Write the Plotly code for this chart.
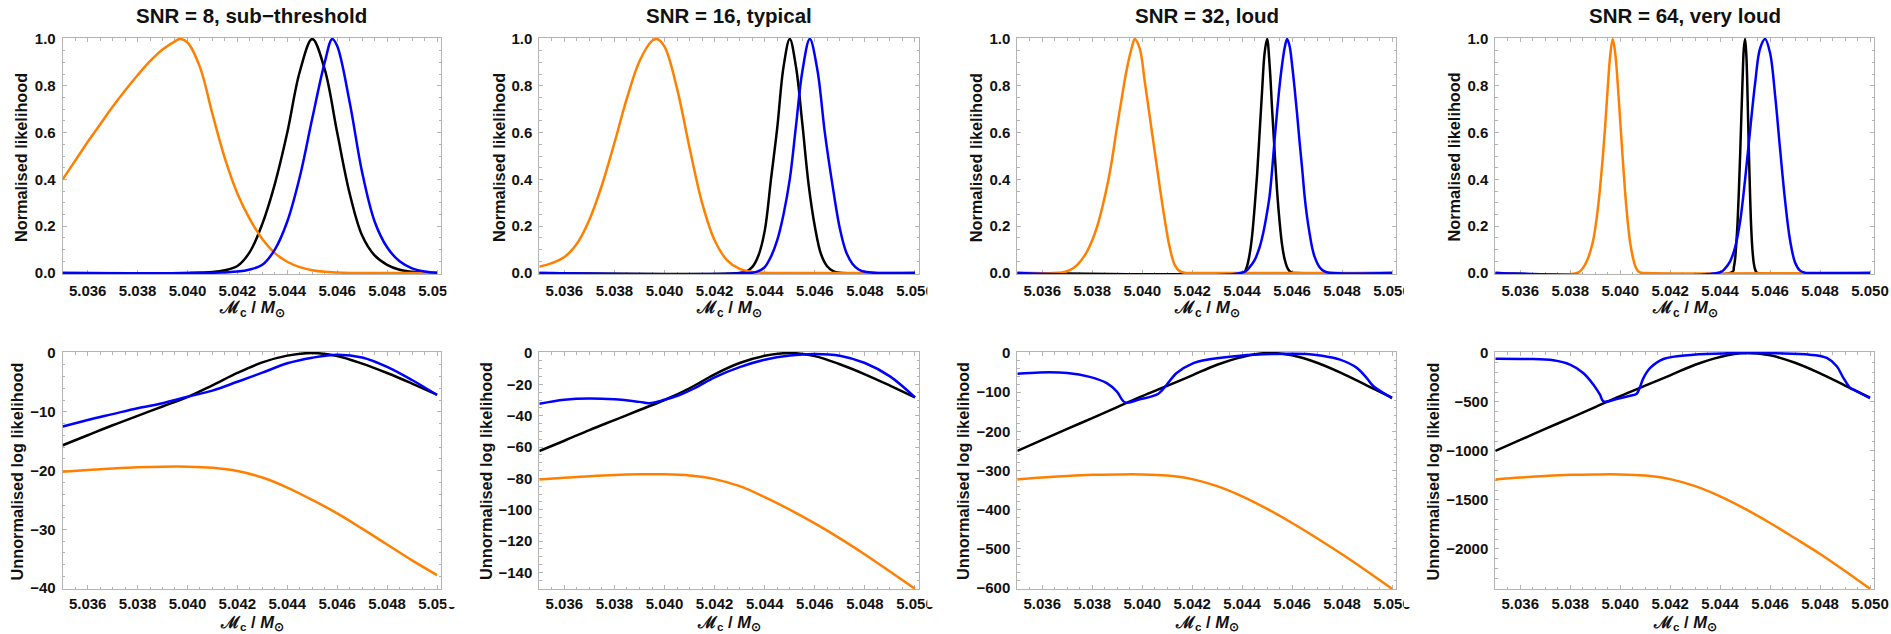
import plotly.graph_objects as go

# ---------------------------------------------------------------- data ----
PANEL_TITLES = ["SNR = 8, sub\u2212threshold", "SNR = 16, typical",
                "SNR = 32, loud", "SNR = 64, very loud"]

# chirp-mass grid (solar masses) shared by the smooth log-likelihood curves
MC_GRID = [5.035, 5.036, 5.037, 5.038, 5.039, 5.040, 5.041, 5.042,
           5.043, 5.044, 5.045, 5.046, 5.047, 5.048, 5.049, 5.050]

# ---- normalised likelihood, SNR 8
norm8_black_x = [5.035, 5.040, 5.041, 5.0415, 5.042, 5.0425, 5.043, 5.0435, 5.044, 5.0445, 5.045,
                 5.0455, 5.046, 5.0465, 5.047, 5.0475, 5.048, 5.0485, 5.049, 5.0495, 5.050]
norm8_black = [0, 0.0005, 0.004, 0.012, 0.03, 0.09, 0.21, 0.38, 0.60, 0.86, 1.0,
               0.87, 0.60, 0.34, 0.16, 0.075, 0.035, 0.014, 0.005, 0.001, 0]
norm8_orange_x = [5.035, 5.0355, 5.036, 5.0365, 5.037, 5.0375, 5.038, 5.0385, 5.039, 5.0395, 5.0397,
                  5.040, 5.0405, 5.041, 5.0415, 5.042, 5.0425, 5.043, 5.0435, 5.044, 5.0445, 5.045,
                  5.0455, 5.046, 5.0465, 5.047, 5.050]
norm8_orange = [0.40, 0.48, 0.56, 0.635, 0.71, 0.78, 0.845, 0.905, 0.955, 0.99, 1.0,
                0.985, 0.88, 0.68, 0.49, 0.34, 0.23, 0.145, 0.085, 0.048, 0.025, 0.012,
                0.005, 0.002, 0.0005, 0, 0]
norm8_blue_x = [5.035, 5.041, 5.042, 5.0425, 5.043, 5.0435, 5.044, 5.0445, 5.045, 5.0455, 5.0458,
                5.046, 5.0465, 5.047, 5.0475, 5.048, 5.0485, 5.049, 5.0495, 5.050]
norm8_blue = [0, 0.001, 0.006, 0.015, 0.035, 0.10, 0.22, 0.41, 0.66, 0.90, 1.0,
              0.97, 0.73, 0.43, 0.22, 0.11, 0.05, 0.02, 0.006, 0.001]

# ---- normalised likelihood, SNR 16
norm16_black_x = [5.035, 5.043, 5.04325, 5.0435, 5.04375, 5.044, 5.04425, 5.0445, 5.04475, 5.045,
                  5.04525, 5.0455, 5.04575, 5.046, 5.04625, 5.0465, 5.04675, 5.047, 5.050]
norm16_black = [0, 0.0005, 0.006, 0.025, 0.075, 0.18, 0.40, 0.62, 0.88, 1.0,
                0.88, 0.64, 0.38, 0.20, 0.08, 0.028, 0.007, 0.001, 0]
norm16_orange_x = [5.035, 5.0355, 5.036, 5.0365, 5.037, 5.0375, 5.038, 5.0385, 5.039, 5.0395, 5.0397,
                   5.040, 5.0405, 5.041, 5.0415, 5.042, 5.0425, 5.043, 5.0435, 5.044, 5.0445, 5.050]
norm16_orange = [0.027, 0.042, 0.068, 0.125, 0.228, 0.375, 0.556, 0.747, 0.905, 0.992, 1.0,
                 0.967, 0.788, 0.534, 0.30, 0.14, 0.054, 0.0175, 0.0047, 0.001, 0, 0]
norm16_blue_x = [5.035, 5.0435, 5.04375, 5.044, 5.04425, 5.0445, 5.04475, 5.045, 5.04525, 5.0455,
                 5.0458, 5.0461, 5.0464, 5.0467, 5.047, 5.04725, 5.0475, 5.04775, 5.048, 5.0485, 5.050]
norm16_blue = [0, 0.001, 0.008, 0.025, 0.07, 0.14, 0.25, 0.40, 0.63, 0.86,
               1.0, 0.87, 0.60, 0.38, 0.19, 0.09, 0.04, 0.015, 0.005, 0.0005, 0]

# ---- normalised likelihood, SNR 32
norm32_black_x = [5.035, 5.0440, 5.0441, 5.0442, 5.0443, 5.0444, 5.0445, 5.0446, 5.0447, 5.0448, 5.0449,
                  5.0450, 5.0451, 5.0452, 5.0453, 5.0454, 5.0455, 5.0456, 5.0457, 5.0458, 5.0459,
                  5.0460, 5.0461, 5.050]
norm32_black = [0, 0.0005, 0.005, 0.03, 0.08, 0.16, 0.28, 0.42, 0.60, 0.78, 0.94,
                1.0, 0.89, 0.70, 0.52, 0.35, 0.22, 0.12, 0.06, 0.025, 0.008,
                0.001, 0, 0]
norm32_orange_x = [5.035, 5.0368, 5.0371, 5.0374, 5.0377, 5.0380, 5.0382, 5.0384, 5.03865, 5.0388,
                   5.0390, 5.0392, 5.0394, 5.0396, 5.0397, 5.0399, 5.0401, 5.0403, 5.0405, 5.0407,
                   5.0409, 5.0411, 5.0413, 5.0415, 5.0417, 5.0420, 5.050]
norm32_orange = [0, 0.002, 0.012, 0.035, 0.075, 0.14, 0.20, 0.28, 0.40, 0.49,
                 0.63, 0.76, 0.88, 0.97, 1.0, 0.96, 0.82, 0.67, 0.52, 0.37,
                 0.23, 0.11, 0.035, 0.008, 0.001, 0, 0]
norm32_blue_x = [5.035, 5.0441, 5.0443, 5.0445, 5.0447, 5.0448, 5.0449, 5.0450, 5.0451, 5.0452, 5.0453,
                 5.0454, 5.0455, 5.0456, 5.0457, 5.0458, 5.0459, 5.0460, 5.0461, 5.0462, 5.0463,
                 5.0464, 5.0465, 5.0466, 5.0467, 5.0468, 5.0469, 5.0471, 5.0473, 5.0475, 5.050]
norm32_blue = [0, 0.005, 0.025, 0.055, 0.11, 0.15, 0.20, 0.26, 0.33, 0.44, 0.57,
               0.69, 0.80, 0.89, 0.96, 1.0, 0.97, 0.89, 0.79, 0.68, 0.56,
               0.45, 0.33, 0.24, 0.17, 0.11, 0.07, 0.025, 0.007, 0.001, 0]

# ---- normalised likelihood, SNR 64
norm64_black_x = [5.035, 5.0445, 5.04455, 5.0446, 5.04465, 5.0447, 5.04475, 5.0448, 5.04485, 5.0449,
                  5.04495, 5.0450, 5.04505, 5.0451, 5.04515, 5.0452, 5.04525, 5.0453, 5.04535,
                  5.0454, 5.04545, 5.0455, 5.050]
norm64_black = [0, 0.005, 0.025, 0.06, 0.13, 0.22, 0.35, 0.50, 0.67, 0.83,
                0.96, 1.0, 0.93, 0.75, 0.52, 0.33, 0.18, 0.09, 0.04,
                0.015, 0.004, 0, 0]
norm64_orange_x = [5.035, 5.0383, 5.0385, 5.0387, 5.0389, 5.0390, 5.0391, 5.0392, 5.0393, 5.0394,
                   5.0395, 5.0396, 5.0397, 5.0398, 5.0399, 5.0400, 5.0401, 5.0402, 5.0403, 5.0404,
                   5.0405, 5.0406, 5.0407, 5.0408, 5.0410, 5.050]
norm64_orange = [0, 0.001, 0.02, 0.06, 0.13, 0.19, 0.27, 0.37, 0.49, 0.63,
                 0.79, 0.93, 1.0, 0.94, 0.81, 0.65, 0.49, 0.34, 0.22, 0.13,
                 0.07, 0.03, 0.01, 0.002, 0, 0]
norm64_blue_x = [5.035, 5.0440, 5.0442, 5.0444, 5.0446, 5.0448, 5.0450, 5.0452, 5.0454, 5.0456, 5.0458,
                 5.0460, 5.0462, 5.0464, 5.0466, 5.0468, 5.0470, 5.0472, 5.0474, 5.0476, 5.050]
norm64_blue = [0, 0.003, 0.02, 0.05, 0.11, 0.22, 0.40, 0.61, 0.81, 0.96, 1.0,
               0.94, 0.76, 0.53, 0.31, 0.14, 0.045, 0.01, 0.001, 0, 0]

# ---- unnormalised log likelihood on MC_GRID (black and orange curves)
logl8_black = [-15.7, -14.0, -12.3, -10.7, -9.1, -7.5, -5.5, -3.4,
               -1.6, -0.45, 0.0, -0.5, -1.8, -3.4, -5.2, -7.1]
logl8_orange = [-20.2, -19.9, -19.65, -19.45, -19.35, -19.35, -19.55, -20.1,
                -21.2, -22.9, -25.0, -27.3, -29.9, -32.6, -35.3, -37.8]
logl16_black = [-62.6, -56.0, -49.2, -42.8, -36.4, -30.0, -22.5, -13.6,
                -6.4, -1.8, 0.0, -2.0, -7.2, -13.6, -20.8, -28.4]
logl16_orange = [-80.8, -79.6, -78.6, -77.8, -77.4, -77.4, -78.2, -80.5,
                 -85.0, -92.0, -100.0, -108.8, -118.3, -128.6, -139.5, -150.5]
logl32_black = [-250, -222, -194, -166, -138, -110, -84, -57,
                -30, -10, 0, -6, -25, -52, -83, -114]
logl32_orange = [-323, -318, -314, -311, -310, -310, -313, -322,
                 -340, -366, -398, -434, -473, -514, -557, -602]
logl64_black = [-1000, -888, -776, -664, -552, -440, -334, -228,
                -120, -40, 0, -24, -100, -208, -332, -456]
logl64_orange = [-1292, -1272, -1256, -1244, -1240, -1240, -1252, -1288,
                 -1360, -1464, -1592, -1736, -1892, -2052, -2226, -2408]

# ---- unnormalised log likelihood, blue curves (own sampling)
logl8_blue_x = MC_GRID
logl8_blue = [-12.5, -11.4, -10.4, -9.4, -8.55, -7.45, -6.4, -4.9,
              -3.35, -1.75, -0.8, -0.28, -0.75, -2.35, -4.6, -7.15]
logl16_blue_x = [5.035, 5.036, 5.037, 5.038, 5.039, 5.0394, 5.040, 5.0406, 5.0412, 5.042,
                 5.043, 5.044, 5.045, 5.046, 5.047, 5.048, 5.049, 5.050]
logl16_blue = [-32.4, -29.8, -29.0, -29.6, -31.2, -32.0, -29.8, -26.8, -22.5, -15.5,
               -9.0, -4.3, -1.6, -0.6, -1.7, -6.4, -14.9, -28.3]
logl32_blue_x = [5.035, 5.0359, 5.0370, 5.0379, 5.03858, 5.03898, 5.03931, 5.03991, 5.04065,
                 5.04098, 5.04138, 5.04205, 5.04258, 5.04392, 5.04525, 5.04659, 5.0472,
                 5.04792, 5.04859, 5.04899, 5.04926, 5.050]
logl32_blue = [-53, -49.5, -51, -61, -77, -98, -126, -118, -104,
               -81, -51, -25.6, -17, -6.8, -2.6, -2.6, -7,
               -17, -38, -64, -85, -115]
logl64_blue_x = [5.035, 5.03626, 5.03732, 5.03799, 5.03852, 5.03893, 5.03919, 5.03933, 5.03986,
                 5.0404, 5.04066, 5.0408, 5.04093, 5.0412, 5.04173, 5.04293, 5.04427, 5.04627,
                 5.0476, 5.04827, 5.04867, 5.04894, 5.04921, 5.04934, 5.050]
logl64_blue = [-58, -61, -75, -119, -204, -324, -426, -494, -470,
               -436, -416, -341, -256, -153, -61, -17, -3.4, -3.4,
               -17, -51, -136, -256, -358, -375, -460]

NORM_SERIES = [
    (norm8_black_x, norm8_black, norm8_orange_x, norm8_orange, norm8_blue_x, norm8_blue),
    (norm16_black_x, norm16_black, norm16_orange_x, norm16_orange, norm16_blue_x, norm16_blue),
    (norm32_black_x, norm32_black, norm32_orange_x, norm32_orange, norm32_blue_x, norm32_blue),
    (norm64_black_x, norm64_black, norm64_orange_x, norm64_orange, norm64_blue_x, norm64_blue),
]
LOGL_SERIES = [
    (MC_GRID, logl8_black, MC_GRID, logl8_orange, logl8_blue_x, logl8_blue),
    (MC_GRID, logl16_black, MC_GRID, logl16_orange, logl16_blue_x, logl16_blue),
    (MC_GRID, logl32_black, MC_GRID, logl32_orange, logl32_blue_x, logl32_blue),
    (MC_GRID, logl64_black, MC_GRID, logl64_orange, logl64_blue_x, logl64_blue),
]
LOGL_MIN = [-40, -150, -600, -2400]
LOGL_DTICK = [10, 20, 100, 500]
LOGL_MINOR = [2, 5, 20, 100]

# ------------------------------------------------------------- layout ----
W, H = 1891, 634
FONT = "Liberation Sans, Arial, sans-serif"
FRAME = "#b4b4b4"
COLORS = ["#000000", "#FF8000", "#0000FF"]   # black, orange, blue (drawing order)

COL_L = [62.7, 539.3, 1017.3, 1495.3]
COL_R = [441.0, 919.0, 1396.0, 1874.0]
ROW_TOP = (39.0, 273.0)
ROW_BOT = (353.0, 588.0)
X_RANGE = [5.035, 5.05016]
PAD = 1.0  # px of head-room so curves touching the frame are not clipped

YT_TOP = [20.5, 498.5, 975.8, 1453.0]
YT_BOT = [16.0, 485.5, 962.5, 1432.0]


def xdom(l, r):
    return [l / W, r / W]


def ydom(t, b):
    return [1 - b / H, 1 - t / H]


fig = go.Figure()
layout = dict(
    width=W, height=H, margin=dict(l=0, r=0, t=0, b=0),
    paper_bgcolor="white", plot_bgcolor="white", showlegend=False,
    font=dict(family=FONT, color="#111111"),
)

annotations = []
shapes = []


def axis_common():
    return dict(showline=True, linecolor=FRAME, linewidth=1, mirror="ticks",
                ticks="inside", ticklen=4, tickwidth=1, tickcolor=FRAME,
                showgrid=False, zeroline=False, automargin=False, layer="below traces",
                tickfont=dict(family=FONT, size=15, color="#111111", weight="bold"))


for i in range(4):
    for row in range(2):
        k = i + 1 + 4 * row
        xa = "xaxis" if k == 1 else f"xaxis{k}"
        ya = "yaxis" if k == 1 else f"yaxis{k}"
        xr = "x" if k == 1 else f"x{k}"
        yr = "y" if k == 1 else f"y{k}"
        t, b = ROW_TOP if row == 0 else ROW_BOT
        if row == 0:
            lo, hi = 0.0, 1.0
        else:
            lo, hi = LOGL_MIN[i], 0.0
        upp = (hi - lo) / (b - t)
        xax = axis_common()
        xax.update(domain=xdom(COL_L[i], COL_R[i]), range=X_RANGE, anchor=yr,
                   tick0=5.036, dtick=0.002, tickformat=".3f",
                   ticklabelstandoff=3 if row == 0 else 1,
                   minor=dict(ticks="inside", ticklen=2.5, tickcolor=FRAME, tick0=5.035,
                              dtick=0.0005, showgrid=False))
        yax = axis_common()
        yax.update(domain=ydom(t - PAD, b + PAD), range=[lo - PAD * upp, hi + PAD * upp],
                   anchor=xr, ticklabelstandoff=3)
        if row == 0:
            yax.update(tick0=0, dtick=0.2, tickformat=".1f",
                       minor=dict(ticks="inside", ticklen=2.5, tickcolor=FRAME, tick0=0,
                                  dtick=0.05, showgrid=False))
        else:
            yax.update(tick0=0, dtick=LOGL_DTICK[i],
                       minor=dict(ticks="inside", ticklen=2.5, tickcolor=FRAME, tick0=0,
                                  dtick=LOGL_MINOR[i], showgrid=False))
        layout[xa] = xax
        layout[ya] = yax

        series = NORM_SERIES[i] if row == 0 else LOGL_SERIES[i]
        for c in range(3):
            fig.add_trace(go.Scatter(
                x=series[2 * c], y=series[2 * c + 1], mode="lines",
                line=dict(color=COLORS[c], width=2.5, shape="spline", smoothing=1.0),
                xaxis=xr, yaxis=yr, hoverinfo="skip"))

        cx = (COL_L[i] + COL_R[i]) / 2
        # x-axis title
        if row == 0:
            ty, tanchor = 1 - 309 / H, "middle"
        else:
            ty, tanchor = 0.0, "bottom"
        annotations.append(dict(
            text="\u2133<sub>c</sub> / <i>M</i><sub>\u2299</sub>", xref="paper", yref="paper",
            x=cx / W, y=ty, showarrow=False, xanchor="center", yanchor=tanchor, borderpad=0,
            font=dict(family=FONT, size=17 if row == 0 else 16.5, color="#111111",
                      weight="bold")))
        # y-axis title
        annotations.append(dict(
            text="Normalised likelihood" if row == 0 else "Unnormalised log likelihood",
            xref="paper", yref="paper", textangle=-90, showarrow=False,
            x=(YT_TOP[i] if row == 0 else YT_BOT[i]) / W,
            y=1 - (157.5 if row == 0 else 471.5) / H,
            xanchor="center", yanchor="middle",
            font=dict(family=FONT, size=16.3, color="#111111", weight="bold")))

    # panel title
    annotations.append(dict(
        text=PANEL_TITLES[i], xref="paper", yref="paper", showarrow=False,
        x=(COL_L[i] + COL_R[i]) / 2 / W, y=1 - 16 / H, xanchor="center", yanchor="middle",
        font=dict(family=FONT, size=20.5, color="#111111", weight="bold")))

# each panel is cropped at its right edge, cutting its last tick label
for cut in [446.5, 927.3, 1404.0]:
    for y0, y1 in [(276, 299), (589, 607)]:
        shapes.append(dict(type="rect", xref="paper", yref="paper",
                           x0=cut / W, x1=(cut + 22) / W, y0=1 - y1 / H, y1=1 - y0 / H,
                           fillcolor="white", line=dict(width=0), layer="above"))

layout["annotations"] = annotations
layout["shapes"] = shapes
fig.update_layout(**layout)
fig.write_html("out.html")
